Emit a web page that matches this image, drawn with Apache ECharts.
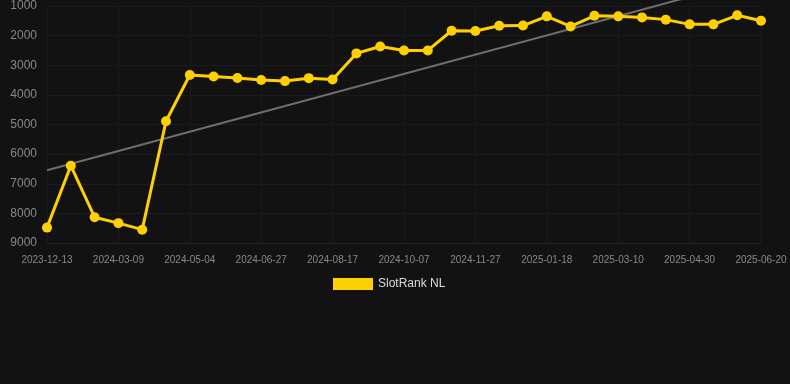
<!DOCTYPE html>
<html>
<head>
<meta charset="utf-8">
<script src="https://cdn.jsdelivr.net/npm/echarts@6/dist/echarts.min.js"></script>
<style>
  html, body { margin: 0; padding: 0; background: #121212; }
  #chart { width: 790px; height: 384px; }
</style>
</head>
<body>
<div id="chart"></div>
<script>
// dates on the x axis (only every third one is labelled)
const dates = [
  '2023-12-13', '2024-01-12', '2024-02-10', '2024-03-09', '2024-03-28', '2024-04-16',
  '2024-05-04', '2024-05-22', '2024-06-09', '2024-06-27', '2024-07-14', '2024-07-31',
  '2024-08-17', '2024-09-03', '2024-09-20', '2024-10-07', '2024-10-24', '2024-11-10',
  '2024-11-27', '2024-12-14', '2024-12-31', '2025-01-18', '2025-02-04', '2025-02-21',
  '2025-03-10', '2025-03-27', '2025-04-13', '2025-04-30', '2025-05-17', '2025-06-03',
  '2025-06-20'
];

// rank values (lower = better, axis is inverted)
const slotRank = [
  8480, 6390, 8130, 8330, 8550, 4890,
  3330, 3380, 3430, 3500, 3535, 3435,
  3480, 2600, 2365, 2500, 2500, 1835,
  1845, 1665, 1660, 1350, 1690, 1330,
  1350, 1385, 1460, 1620, 1620, 1315,
  1495
];

// trend line end points
const trendStart = 6545;
const trendEnd = 40;

const chart = echarts.init(document.getElementById('chart'));

const option = {
  backgroundColor: '#121212',
  textStyle: { fontFamily: 'Arial, "Liberation Sans", sans-serif' },
  animation: false,
  grid: {
    left: 47,
    right: 29,
    top: 6,
    bottom: 141
  },
  legend: {
    data: ['SlotRank NL'],
    top: 273,
    left: 328,
    icon: 'rect',
    itemWidth: 40,
    itemHeight: 12,
    itemGap: 10,
    textStyle: { color: '#dddddd', fontSize: 12 }
  },
  xAxis: {
    type: 'category',
    data: dates,
    boundaryGap: false,
    axisLine: { lineStyle: { color: '#232323' } },
    axisTick: { show: false },
    axisLabel: {
      interval: 2,
      color: '#888888',
      fontSize: 10,
      margin: 12
    },
    splitLine: {
      show: true,
      interval: 2,
      lineStyle: { color: '#1b1b1b' }
    }
  },
  yAxis: {
    type: 'value',
    inverse: true,
    min: 1000,
    max: 9000,
    interval: 1000,
    axisLine: { show: false },
    axisTick: { show: false },
    axisLabel: {
      color: '#888888',
      fontSize: 12,
      margin: 10,
      formatter: (v) => String(v)
    },
    splitLine: { lineStyle: { color: '#1b1b1b' } }
  },
  series: [
    {
      name: 'Trend',
      type: 'line',
      data: [[0, trendStart], [dates.length - 1, trendEnd]],
      symbol: 'none',
      clip: false,
      silent: true,
      lineStyle: { color: '#6e6e6e', width: 2 },
      z: 1
    },
    {
      name: 'SlotRank NL',
      type: 'line',
      data: slotRank,
      symbol: 'circle',
      symbolSize: 10,
      itemStyle: { color: '#ffd000' },
      lineStyle: { color: '#ffd000', width: 3 },
      z: 3
    }
  ]
};

chart.setOption(option);
</script>
</body>
</html>
